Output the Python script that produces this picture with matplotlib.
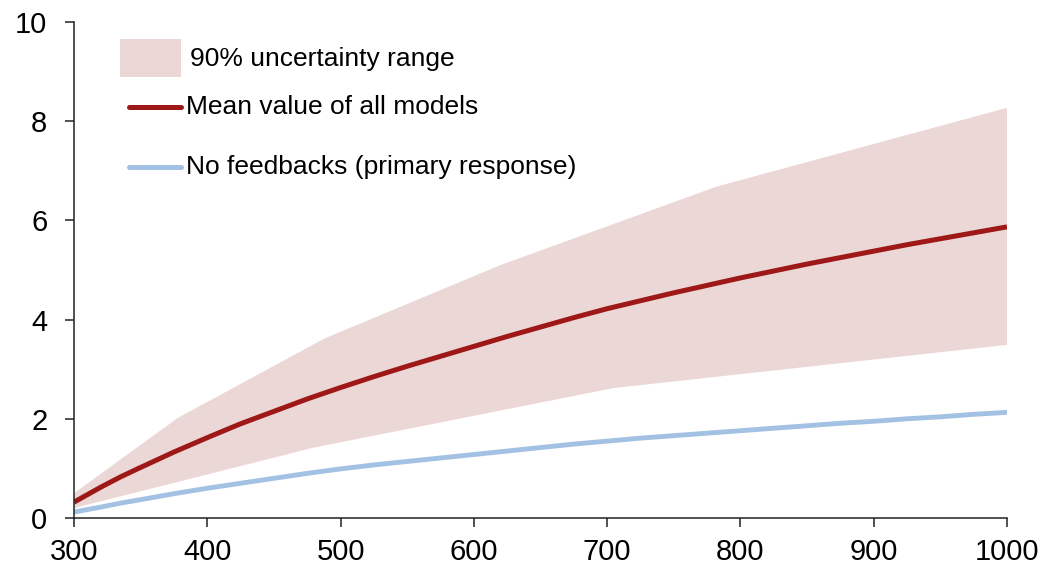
import numpy as np
import matplotlib.pyplot as plt
from matplotlib.patches import Rectangle
from matplotlib.lines import Line2D

plt.rcParams['font.family'] = ['Liberation Sans', 'DejaVu Sans']

# CO2 concentration (x) and warming values
co2 = [300, 310, 320, 335, 350, 375, 400, 425, 450, 475, 500, 525, 550, 575, 600, 625, 650,
       675, 700, 725, 750, 775, 800, 825, 850, 875, 900, 925, 950, 975, 1000]
mean_models = [0.32, 0.47, 0.62, 0.83, 1.02, 1.33, 1.62, 1.90, 2.15, 2.40, 2.63, 2.85,
               3.06, 3.26, 3.46, 3.66, 3.85, 4.04, 4.22, 4.38, 4.54, 4.69, 4.84, 4.98,
               5.12, 5.25, 5.38, 5.51, 5.63, 5.75, 5.87]
no_feedback = [0.12, 0.17, 0.22, 0.30, 0.37, 0.49, 0.60, 0.70, 0.80, 0.90, 0.99, 1.07,
               1.14, 1.21, 1.28, 1.35, 1.42, 1.49, 1.55, 1.61, 1.66, 1.71, 1.76, 1.81,
               1.86, 1.91, 1.95, 2.00, 2.04, 2.09, 2.13]

# 90% range edges (piecewise)
upper_x = [300, 378, 488, 620, 782, 1000]
upper_y = [0.50, 2.02, 3.62, 5.10, 6.68, 8.27]
lower_x = [300, 480, 705, 1000]
lower_y = [0.20, 1.42, 2.62, 3.49]

xticks = [300, 400, 500, 600, 700, 800, 900, 1000]
yticks = [0, 2, 4, 6, 8, 10]

band_col = '#ECD7D7'
red = '#9E1818'
blue = '#A3C1E2'

fig = plt.figure(figsize=(10.46, 5.70), dpi=100)
ax = fig.add_axes([74 / 1046, 1 - 518 / 570, 933 / 1046, 496 / 570])

ax.fill(np.r_[upper_x, lower_x[::-1]], np.r_[upper_y, lower_y[::-1]],
        color=band_col, lw=0)
ax.plot(co2, no_feedback, color=blue, lw=3.5, solid_capstyle='butt')
ax.plot(co2, mean_models, color=red, lw=3.6, solid_capstyle='butt')

ax.set_xlim(300, 1000)
ax.set_ylim(0, 10)
ax.set_xticks(xticks)
ax.set_yticks(yticks)
ax.tick_params(axis='both', direction='out', length=6.2, width=1.1, color='#222222',
               labelsize=21)
ax.tick_params(axis='x', pad=8.5)
ax.tick_params(axis='y', pad=13)
for s in ['top', 'right']:
    ax.spines[s].set_visible(False)
for s in ['left', 'bottom']:
    ax.spines[s].set_color('#222222')
    ax.spines[s].set_linewidth(1.1)

# legend drawn by hand to match the layout
fig.patches.append(Rectangle((120 / 1046, 1 - 77 / 570), 61 / 1046, 38 / 570,
                             transform=fig.transFigure, color=band_col, lw=0))
fig.text(190 / 1046, 1 - 59 / 570, '90% uncertainty range', fontsize=19, va='center')
fig.lines.append(Line2D([129 / 1046, 181 / 1046], [1 - 107 / 570] * 2,
                        transform=fig.transFigure, color=red, lw=3.6,
                        solid_capstyle='round'))
fig.text(186 / 1046, 1 - 107 / 570, 'Mean value of all models', fontsize=19, va='center')
fig.lines.append(Line2D([129 / 1046, 181 / 1046], [1 - 167 / 570] * 2,
                        transform=fig.transFigure, color=blue, lw=3.6,
                        solid_capstyle='round'))
fig.text(186 / 1046, 1 - 167 / 570, 'No feedbacks (primary response)', fontsize=19, va='center')

fig.savefig('out.png', dpi=100)
